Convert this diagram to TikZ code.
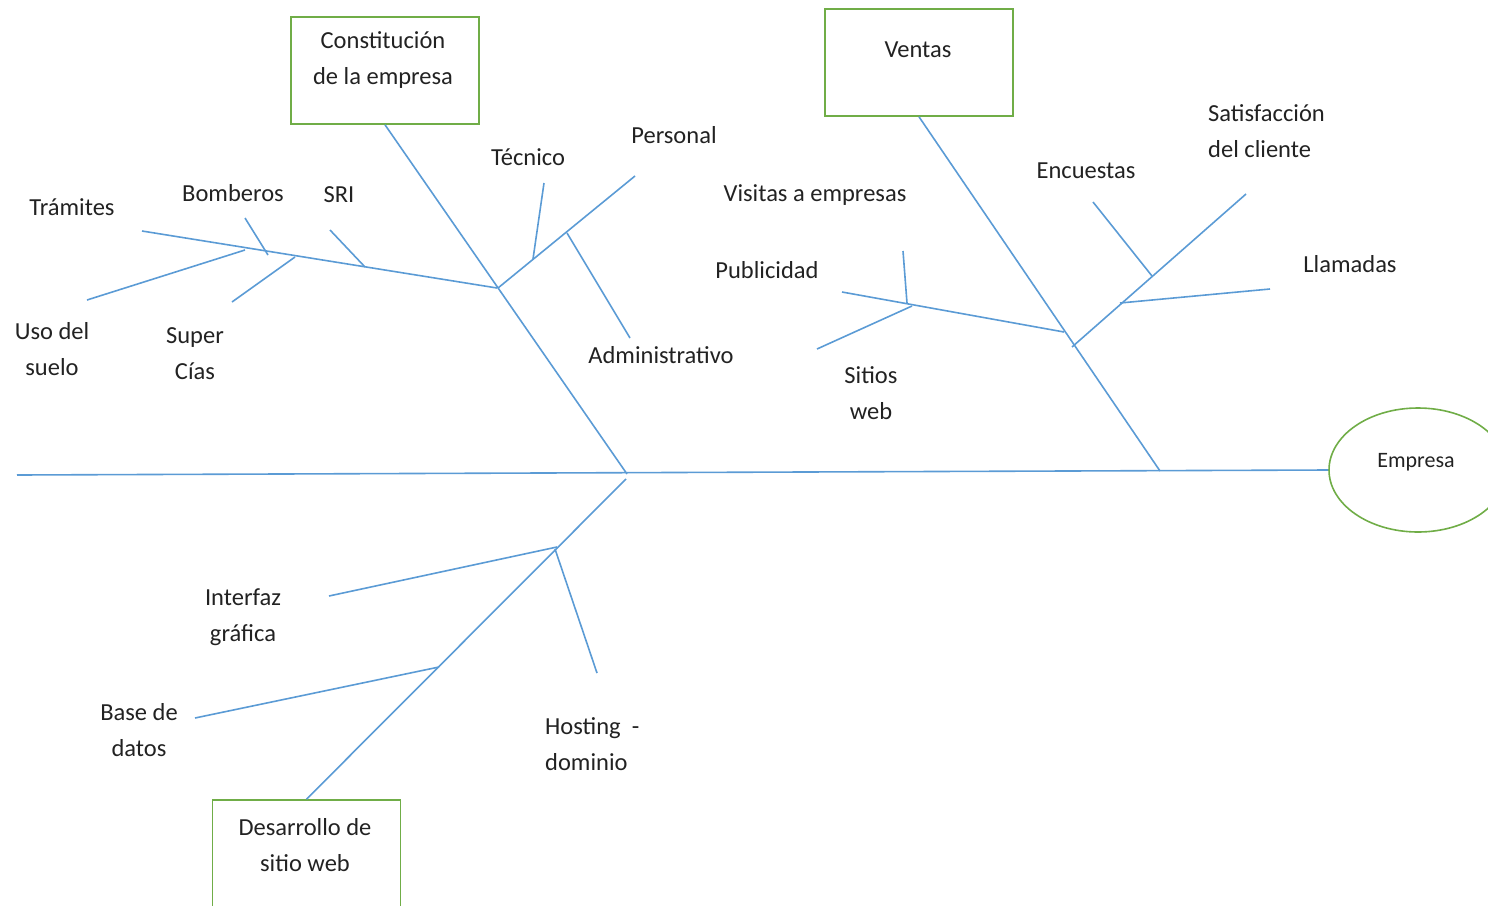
\documentclass[tikz,border=0pt]{standalone}
\usepackage{fontspec}
\setmainfont{Carlito}
\usetikzlibrary{shapes.geometric}
\definecolor{bone}{HTML}{5B9BD5}
\definecolor{frame}{HTML}{70AD47}
\definecolor{ink}{HTML}{222222}
\begin{document}
\begin{tikzpicture}[x=1pt,y=-1pt,
  font=\fontsize{24.5}{36}\selectfont,
  every node/.style={text=ink, inner sep=0pt, align=center},
  bonestyle/.style={draw=bone, line width=1.6pt},
  catbox/.style={draw=frame, line width=1.6pt, rectangle, minimum width=188pt, minimum height=107pt},
  headshape/.style={draw=frame, line width=1.6pt, ellipse, minimum width=178pt, minimum height=124pt}]
\useasboundingbox (0,0) rectangle (1488,905);

% head and category boxes
\node (empresa) [headshape] at (1418,470) {};
\node (empresaTxt) [font=\fontsize{22}{30}\selectfont] at (1416,462) {Empresa};
\node (constit) [catbox] at (385,70.5) {};
\node (constitTxt) at (383,60) {Constitución\\de la empresa};
\node (ventas) [catbox] at (919,62.5) {};
\node (ventasTxt) at (918,50) {Ventas};
\node (desarrollo) [catbox, minimum height=130pt] at (306.5,865) {};
\node (desarrolloTxt) at (305,845) {Desarrollo de\\sitio web};

% spine and main bones
\coordinate (tail) at (17,475);
\coordinate (sp1) at (627,474);
\coordinate (sp2) at (1160,471);
\coordinate (sp3) at (626,479);
\draw[bonestyle] (tail) -- (empresa.west);
\draw[bonestyle] (constit.south) -- (sp1);
\draw[bonestyle] (ventas.south) -- (sp2);
\draw[bonestyle] (sp3) -- (desarrollo.north);

% Constitución de la empresa: Trámites branch
\coordinate (a0) at (497,288);
\coordinate (aT) at (142,231);
\draw[bonestyle] (aT) -- (a0);
\coordinate (bomA) at (245,218); \coordinate (bomB) at (268,255);
\draw[bonestyle] (bomA) -- (bomB);
\coordinate (sriA) at (330,230); \coordinate (sriB) at (365,267);
\draw[bonestyle] (sriA) -- (sriB);
\coordinate (usoA) at (87,300); \coordinate (usoB) at (245,250);
\draw[bonestyle] (usoA) -- (usoB);
\coordinate (supA) at (232,302); \coordinate (supB) at (295,257);
\draw[bonestyle] (supA) -- (supB);

% Constitución de la empresa: Personal branch
\coordinate (p0) at (498,288);
\coordinate (pE) at (635,176);
\draw[bonestyle] (p0) -- (pE);
\coordinate (tecA) at (544,183); \coordinate (tecB) at (533,259);
\draw[bonestyle] (tecA) -- (tecB);
\coordinate (admA) at (567,233); \coordinate (admB) at (630,338);
\draw[bonestyle] (admA) -- (admB);

% Ventas: Publicidad branch
\coordinate (v0) at (1064,332);
\coordinate (vE) at (842,292);
\draw[bonestyle] (vE) -- (v0);
\coordinate (visA) at (903,251); \coordinate (visB) at (907,303);
\draw[bonestyle] (visA) -- (visB);
\coordinate (sitA) at (817,349); \coordinate (sitB) at (912,306);
\draw[bonestyle] (sitA) -- (sitB);

% Ventas: Satisfacción branch
\coordinate (s0) at (1072,347);
\coordinate (sE) at (1246,194);
\draw[bonestyle] (s0) -- (sE);
\coordinate (encA) at (1093,202); \coordinate (encB) at (1152,276);
\draw[bonestyle] (encA) -- (encB);
\coordinate (llaA) at (1120,303); \coordinate (llaB) at (1270,289);
\draw[bonestyle] (llaA) -- (llaB);

% Desarrollo de sitio web branches
\coordinate (intA) at (329,596); \coordinate (intB) at (557,547);
\draw[bonestyle] (intA) -- (intB);
\coordinate (hosA) at (555,549); \coordinate (hosB) at (597,673);
\draw[bonestyle] (hosA) -- (hosB);
\coordinate (basA) at (195,718); \coordinate (basB) at (439,667);
\draw[bonestyle] (basA) -- (basB);

% cause labels
\node (tramites) at (72,207) {Trámites};
\node (bomberos) at (233,193) {Bomberos};
\node (sri) at (339,195) {SRI};
\node (uso) at (52,349) {Uso del\\suelo};
\node (super) at (195,354) {Super\\Cías};
\node (tecnico) at (528,157) {Técnico};
\node (personal) at (674,135) {Personal};
\node (administrativo) at (661,355) {Administrativo};
\node (visitas) at (815,195) {Visitas a empresas};
\node (publicidad) at (767,270) {Publicidad};
\node (sitios) at (871,393) {Sitios\\web};
\node (encuestas) at (1086,171) {Encuestas};
\node (satisfaccion) [anchor=west, align=left] at (1208,131) {Satisfacción\\del cliente};
\node (llamadas) at (1350,264) {Llamadas};
\node (interfaz) at (243,617) {Interfaz\\gráfica};
\node (basedatos) at (139,730) {Base de\\datos};
\node (hosting) [anchor=west, align=left] at (545,744) {Hosting\ \ -\\dominio};
\end{tikzpicture}
\end{document}
